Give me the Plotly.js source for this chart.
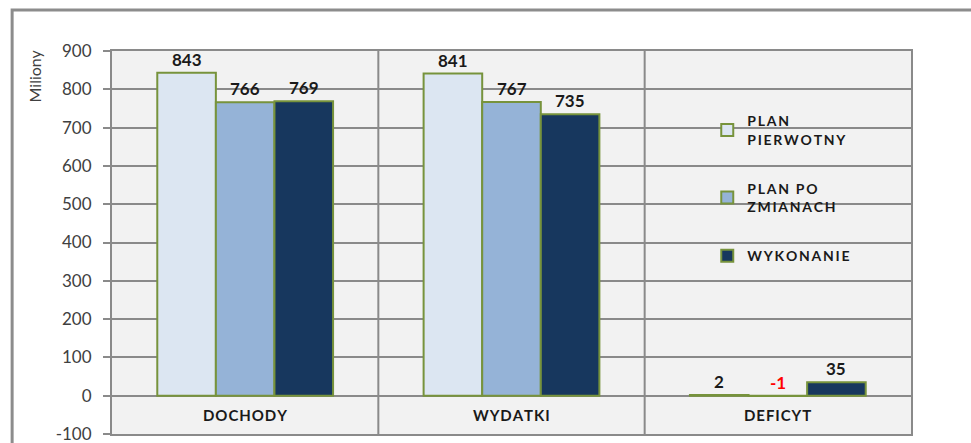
<!DOCTYPE html>
<html><head><meta charset="utf-8">
<script src="https://cdn.plot.ly/plotly-3.0.1.min.js"></script>
<style>body{margin:0;background:#fff}#c{width:971px;height:443px}</style>
</head><body><div id="c"></div>
<script>
const categories = ["DOCHODY", "WYDATKI", "DEFICYT"];
const seriesNames = ["PLAN<br>PIERWOTNY", "PLAN PO<br>ZMIANACH", "WYKONANIE"];
const planPierwotny = [843, 841, 2];
const planPoZmianach = [766, 767, -1];
const wykonanie = [769, 735, 35];
const yTicks = [-100, 0, 100, 200, 300, 400, 500, 600, 700, 800, 900];

const series = [planPierwotny, planPoZmianach, wykonanie];
const colors = ["#dce6f2", "#95b3d7", "#17375e"];
const xs = categories.map((c, i) => i);
const bargap = 0.34;
const bw = (1 - bargap) / series.length;
const FONT = "Lato, 'Open Sans', sans-serif";

function track(str, sp) {
  return str.split("<br>").map(line => line.split(" ").map(w => w.split("").join(sp)).join("  ")).join("<br>");
}

const traces = series.map((vals, s) => ({
  type: "bar", x: xs, y: vals, name: "<b>" + track(seriesNames[s], "\u2009") + "</b>",
  legendgroup: "g" + s,
  marker: {color: colors[s], line: {color: "#77933c", width: 2}},
  hoverinfo: "y"
}));

const annotations = [];
series.forEach((vals, s) => vals.forEach((v, i) => {
  annotations.push({
    x: i + (s - (series.length - 1) / 2) * bw, y: Math.max(v, 0),
    xref: "x", yref: "y", xanchor: "center", yanchor: "bottom", yshift: 1, showarrow: false,
    text: "<b>" + v + "</b>",
    font: {family: FONT, size: 17, color: v < 0 ? "#ff0000" : "#1a1a1a"}
  });
}));
categories.forEach((c, i) => annotations.push({
  x: i, y: -50, xref: "x", yref: "y", xanchor: "center", yanchor: "middle", showarrow: false,
  text: "<b>" + track(c, "\u200A") + "</b>",
  font: {family: FONT, size: 15, color: "#1a1a1a"}
}));
annotations.push({
  x: -0.097, y: 0.935, xref: "paper", yref: "paper", xanchor: "center", yanchor: "middle",
  showarrow: false, text: "Miliony", textangle: -90,
  font: {family: FONT, size: 16, color: "#404040"}
});

const shapes = [];
for (let i = 0; i < categories.length - 1; i++) {
  shapes.push({type: "line", xref: "x", yref: "y", x0: i + 0.5, x1: i + 0.5, y0: -100, y1: 900,
    line: {color: "#8a8a8a", width: 2}, layer: "below"});
}
shapes.push({type: "rect", xref: "paper", yref: "paper", x0: -0.125, x1: 1.2, y0: -0.3, y1: 1.107,
  line: {color: "#8c8c8c", width: 3}, fillcolor: "rgba(0,0,0,0)"});

const layout = {
  width: 971, height: 443,
  margin: {l: 112, r: 60, t: 51, b: 9},
  paper_bgcolor: "#ffffff", plot_bgcolor: "#f2f2f2",
  barmode: "group", bargap: bargap, bargroupgap: 0,
  showlegend: true,
  legend: {x: 0.745, y: 0.858, xanchor: "left", yanchor: "top", bgcolor: "rgba(0,0,0,0)",
    tracegroupgap: 28, itemwidth: 30,
    font: {family: FONT, size: 14, color: "#1a1a1a"}},
  xaxis: {range: [-0.5, 2.5], showticklabels: false, showgrid: false, zeroline: false,
    showline: true, mirror: true, linecolor: "#8a8a8a", linewidth: 2, fixedrange: true},
  yaxis: {range: [-100, 900], tickvals: yTicks, ticktext: yTicks.map(String),
    showgrid: true, gridcolor: "#8a8a8a", gridwidth: 2,
    zeroline: false, showline: true, mirror: true, linecolor: "#8a8a8a", linewidth: 2,
    ticks: "outside", ticklen: 7, tickcolor: "#8a8a8a", tickwidth: 2, ticklabelstandoff: 8,
    ticklabeloverflow: "allow",
    tickfont: {family: FONT, size: 17, color: "#404040"}, fixedrange: true},
  annotations: annotations, shapes: shapes
};
Plotly.newPlot("c", traces, layout, {displayModeBar: false, staticPlot: true});
</script></body></html>
